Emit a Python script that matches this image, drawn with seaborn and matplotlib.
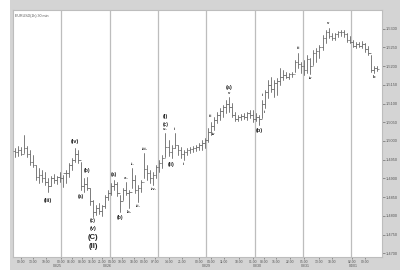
import matplotlib
matplotlib.use("Agg")
import matplotlib.pyplot as plt
import seaborn as sns
import pandas as pd
from matplotlib.patches import Rectangle
from matplotlib.ticker import FixedLocator, FixedFormatter

# ---------------- data ----------------
highs = [1.4981, 1.4986, 1.4984, 1.5016, 1.4986, 1.4976, 1.4962, 1.4936, 1.4928, 1.4922,
         1.4917, 1.4901, 1.4906, 1.4912, 1.4906, 1.4917, 1.4909, 1.4922, 1.4941, 1.4954,
         1.4981, 1.4976, 1.4944, 1.4901, 1.4904, 1.4874, 1.4842, 1.4829, 1.4834, 1.4829,
         1.4855, 1.4869, 1.4887, 1.4896, 1.4890, 1.4855, 1.4874, 1.4890, 1.4869, 1.4928,
         1.4909, 1.4882, 1.4896, 1.4968, 1.4936, 1.4922, 1.4917, 1.4936, 1.4949, 1.4962,
         1.5021, 1.5002, 1.4989, 1.5021, 1.4989, 1.4984, 1.4976, 1.4981, 1.4984, 1.4986,
         1.4989, 1.4994, 1.5002, 1.5008, 1.5034, 1.5050, 1.5064, 1.5077, 1.5088, 1.5096,
         1.5109, 1.5117, 1.5101, 1.5077, 1.5069, 1.5072, 1.5075, 1.5077, 1.5083, 1.5083,
         1.5075, 1.5069, 1.5109, 1.5136, 1.5163, 1.5171, 1.5163, 1.5168, 1.5195, 1.5190,
         1.5184, 1.5182, 1.5184, 1.5216, 1.5235, 1.5211, 1.5216, 1.5230, 1.5222, 1.5243,
         1.5248, 1.5256, 1.5283, 1.5297, 1.5302, 1.5288, 1.5288, 1.5294, 1.5297, 1.5297,
         1.5288, 1.5280, 1.5270, 1.5264, 1.5264, 1.5267, 1.5262, 1.5254, 1.5230, 1.5200,
         1.5200]
lows = [1.4957, 1.4960, 1.4962, 1.4968, 1.4957, 1.4936, 1.4930, 1.4896, 1.4887, 1.4890,
        1.4882, 1.4863, 1.4879, 1.4887, 1.4885, 1.4890, 1.4877, 1.4887, 1.4904, 1.4922,
        1.4944, 1.4941, 1.4869, 1.4863, 1.4869, 1.4829, 1.4797, 1.4802, 1.4805, 1.4799,
        1.4821, 1.4842, 1.4855, 1.4869, 1.4853, 1.4810, 1.4842, 1.4855, 1.4821, 1.4874,
        1.4861, 1.4837, 1.4863, 1.4901, 1.4896, 1.4887, 1.4882, 1.4901, 1.4917, 1.4928,
        1.4957, 1.4960, 1.4954, 1.4981, 1.4962, 1.4954, 1.4949, 1.4962, 1.4968, 1.4970,
        1.4973, 1.4976, 1.4976, 1.4981, 1.4997, 1.5016, 1.5029, 1.5048, 1.5056, 1.5064,
        1.5075, 1.5077, 1.5064, 1.5053, 1.5053, 1.5056, 1.5059, 1.5056, 1.5061, 1.5050,
        1.5053, 1.5042, 1.5061, 1.5088, 1.5115, 1.5131, 1.5117, 1.5123, 1.5149, 1.5163,
        1.5168, 1.5165, 1.5171, 1.5184, 1.5195, 1.5182, 1.5176, 1.5182, 1.5179, 1.5203,
        1.5211, 1.5222, 1.5243, 1.5262, 1.5275, 1.5270, 1.5270, 1.5278, 1.5280, 1.5278,
        1.5264, 1.5262, 1.5251, 1.5248, 1.5251, 1.5248, 1.5238, 1.5230, 1.5184, 1.5182,
        1.5187]
closes = [1.4970, 1.4975, 1.4966, 1.4980, 1.4965, 1.4945, 1.4935, 1.4905, 1.4910, 1.4900,
          1.4890, 1.4880, 1.4900, 1.4895, 1.4905, 1.4900, 1.4915, 1.4915, 1.4935, 1.4950,
          1.4965, 1.4950, 1.4880, 1.4885, 1.4875, 1.4840, 1.4810, 1.4820, 1.4812, 1.4825,
          1.4850, 1.4862, 1.4880, 1.4885, 1.4860, 1.4840, 1.4868, 1.4862, 1.4865, 1.4895,
          1.4870, 1.4875, 1.4890, 1.4925, 1.4915, 1.4900, 1.4910, 1.4930, 1.4940, 1.4955,
          1.4985, 1.4970, 1.4980, 1.4990, 1.4975, 1.4965, 1.4970, 1.4975, 1.4978, 1.4982,
          1.4985, 1.4990, 1.4995, 1.5003, 1.5025, 1.5040, 1.5055, 1.5070, 1.5080, 1.5090,
          1.5100, 1.5090, 1.5070, 1.5060, 1.5065, 1.5068, 1.5065, 1.5075, 1.5070, 1.5060,
          1.5065, 1.5060, 1.5100, 1.5130, 1.5150, 1.5140, 1.5155, 1.5160, 1.5170, 1.5175,
          1.5172, 1.5178, 1.5180, 1.5210, 1.5205, 1.5200, 1.5190, 1.5220, 1.5200, 1.5235,
          1.5240, 1.5250, 1.5275, 1.5290, 1.5280, 1.5275, 1.5285, 1.5290, 1.5292, 1.5285,
          1.5270, 1.5265, 1.5255, 1.5260, 1.5255, 1.5258, 1.5245, 1.5235, 1.5190, 1.5195,
          1.5192]
first_open = 1.4972

time_labels = ["09:00", "13:00", "19:00", "00:00", "06:00", "08:00", "16:00", "21:00",
               "04:00", "10:00", "18:00", "00:00", "07:00", "14:00", "21:00", "00:00",
               "04:00", "11:00", "18:00", "01:00", "08:00", "15:00", "22:00", "05:00",
               "13:00", "18:00", "02:00", "09:00"]
time_pos = [2.2, 6.1, 10.4, 15.4, 18.9, 22.3, 25.6, 29.0, 32.2, 35.5, 39.6, 42.9, 46.5,
            51.2, 55.5, 61.2, 65.2, 69.4, 74.3, 79.0, 82.6, 86.6, 91.2, 95.9, 100.8,
            105.1, 111.8, 116.1]
date_labels = ["03/25", "03/26", "03/29", "03/30", "03/31", "04/01", "04/02"]
date_pos = [14.1, 30.6, 46.5, 63.7, 80.3, 96.2, 112.1]
day_breaks = [15.5, 31.5, 47.5, 63.5, 79.5, 95.5, 111.5]
price_ticks = [1.4700, 1.4750, 1.4800, 1.4850, 1.4900, 1.4950, 1.5000,
               1.5050, 1.5100, 1.5150, 1.5200, 1.5250, 1.5300]

# wave labels: (bar, text, side, offset px, fontsize)
waves = [
    (11, "(iii)", "low", 8, 4), (20, "(iv)", "high", 7, 4),
    (22, "(a)", "low", 6, 3.6), (24, "(b)", "high", 6, 3.6),
    (26, "(c)", "low", 4, 3.4), (26, "(v)", "low", 12, 4),
    (26, "(C)", "low", 21, 5.5), (26, "(II)", "low", 30, 5.5),
    (33, "(a)", "high", 5, 3.6), (35, "(b)", "low", 5, 3.6),
    (37, "-a-", "high", 4, 2.8), (38, "-b-", "low", 4, 2.8),
    (39, "-i-", "high", 4, 2.8), (41, "-ii-", "low", 4, 2.8),
    (43, "-iii-", "high", 4, 2.8), (46, "-iv-", "low", 4, 2.8),
    (50, "-v-", "high", 4, 2.8), (50, "(c)", "high", 9, 3.4), (50, "(i)", "high", 17, 4),
    (52, "(ii)", "low", 6, 4), (53, "i", "high", 4, 3), (56, "ii", "low", 4, 3),
    (65, "iii", "high", 6, 3), (66, "iv", "low", 4, 3),
    (71, "v", "high", 4, 3), (71, "(a)", "high", 10, 4),
    (81, "(b)", "low", 5, 4), (82, "i", "high", 5, 3), (83, "ii", "low", 4, 3),
    (94, "iii", "high", 5, 3), (98, "iv", "low", 4, 3),
    (104, "v", "high", 5, 3), (119, "b", "low", 4, 3),
]

# ---------------- figure ----------------
sns.set_theme(style="white")
plt.rcParams['font.family'] = ['Liberation Sans', 'DejaVu Sans']

W, H = 413, 270
fig = plt.figure(figsize=(W / 100, H / 100), dpi=100, facecolor='#d4d4d4')
fig.patches.append(Rectangle((0, 0), 10 / W, 1, transform=fig.transFigure,
                             facecolor='white', edgecolor='none', zorder=0))
fig.patches.append(Rectangle((400 / W, 0), 13 / W, 1, transform=fig.transFigure,
                             facecolor='white', edgecolor='none', zorder=0))

ax = fig.add_axes([13 / W, 13 / H, 369 / W, 247 / H])
ax.set_facecolor('white')

n = len(highs)
opens = [first_open] + closes[:-1]
df = pd.DataFrame({"bar": list(range(n)), "high": highs, "low": lows,
                   "open": opens, "close": closes})
long = df.melt(id_vars="bar", value_vars=["low", "high"], value_name="price")

for xb in day_breaks:
    ax.axvline(xb, color='#bdbdbd', lw=0.9, zorder=1)

bar_col = '#666666'
sns.lineplot(data=long, x="bar", y="price", units="bar", estimator=None,
             color=bar_col, lw=0.6, ax=ax, zorder=3)
ax.hlines(df["open"], df["bar"] - 0.6, df["bar"], color=bar_col, lw=0.5, zorder=3)
ax.hlines(df["close"], df["bar"], df["bar"] + 0.6, color=bar_col, lw=0.5, zorder=3)

ax.set_xlim(-0.5, 121.7)
ax.set_ylim(1.4690, 1.5350)
ax.set_xlabel("")
ax.set_ylabel("")

# wave labels
for bar, txt, side, off, fs in waves:
    if side == "high":
        yv, dy = highs[bar], off * 0.72
    else:
        yv, dy = lows[bar], -off * 0.72
    ax.annotate(txt, (bar, yv), xytext=(0, dy), textcoords='offset points',
                ha='center', va='center', fontsize=fs, fontweight='bold',
                color='#222222', zorder=4)

ax.text(0.006, 0.985, "EURUSD(1h) 30 min", transform=ax.transAxes, fontsize=2.6,
        color='#555555', va='top', ha='left')

# axes styling
ax.yaxis.tick_right()
ax.set_yticks(price_ticks)
ax.set_yticklabels([f"{p:.4f}" for p in price_ticks])
ax.tick_params(axis='y', which='major', length=2, width=0.4, pad=1,
               labelsize=2.8, colors='#555555', right=True, left=False)

ax.xaxis.set_major_locator(FixedLocator(time_pos))
ax.xaxis.set_major_formatter(FixedFormatter(time_labels))
ax.xaxis.set_minor_locator(FixedLocator(date_pos))
ax.xaxis.set_minor_formatter(FixedFormatter(date_labels))
ax.tick_params(axis='x', which='major', length=1.2, width=0.4, pad=0.8,
               labelsize=2.4, colors='#555555', bottom=True)
ax.tick_params(axis='x', which='minor', length=0, pad=5.0,
               labelsize=2.6, colors='#555555', bottom=True)

for s in ax.spines.values():
    s.set_color('#bdbdbd')
    s.set_linewidth(0.8)

fig.savefig("out.png", dpi=100, facecolor=fig.get_facecolor())
